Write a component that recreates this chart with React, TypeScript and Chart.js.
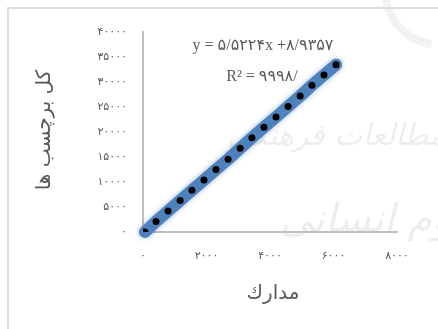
import React, { useEffect, useRef } from "react";
import { Chart, registerables } from "chart.js";

Chart.register(...registerables);

// Data
const docCounts = [60, 410, 790, 1170, 1540, 1920, 2300, 2680, 3060, 3430, 3810, 4190, 4570, 4950, 5320, 5700, 6080];
const labelCounts = [0, 2100, 4200, 6300, 8350, 10400, 12500, 14550, 16750, 18850, 20950, 23000, 25100, 27200, 29350, 31400, 33450];

const xTickLabels = ["۰", "۲۰۰۰", "۴۰۰۰", "۶۰۰۰", "۸۰۰۰"];
const yTickLabels = ["۰", "۵۰۰۰", "۱۰۰۰۰", "۱۵۰۰۰", "۲۰۰۰۰", "۲۵۰۰۰", "۳۰۰۰۰", "۳۵۰۰۰", "۴۰۰۰۰"];

const xTitle = "مدارك";
const yTitle = "کل برچسب ها";
const equationText = "y = ۵/۵۲۲۴x +۸/۹۳۵۷";
const r2Text = "R² = ۹۹۹۸/";
const watermark1 = "مطالعات فرهنگی";
const watermark2 = "علوم انسانی";

const W = 438;
const H = 329;

export default function App() {
  const ref = useRef<HTMLCanvasElement | null>(null);

  useEffect(() => {
    if (!ref.current) return;
    const points = docCounts.map((x, i) => ({ x, y: labelCounts[i] }));

    const decor = {
      id: "decor",
      beforeDraw(chart: any) {
        const ctx = chart.ctx;
        ctx.save();
        ctx.fillStyle = "#fff";
        ctx.fillRect(0, 0, W, H);
        // watermark
        ctx.fillStyle = "rgba(0,0,0,0.07)";
        ctx.textAlign = "right";
        ctx.font = "italic 30px 'DejaVu Sans'";
        ctx.fillText(watermark1, 445, 145);
        ctx.font = "italic 40px 'DejaVu Sans'";
        ctx.fillText(watermark2, 490, 232);
        ctx.beginPath();
        ctx.lineWidth = 8;
        ctx.strokeStyle = "rgba(0,0,0,0.05)";
        ctx.arc(440, -10, 55, Math.PI * 0.55, Math.PI * 0.95);
        ctx.stroke();
        // frame
        ctx.strokeStyle = "#dedede";
        ctx.lineWidth = 2;
        ctx.beginPath();
        ctx.moveTo(8, H);
        ctx.lineTo(8, 8);
        ctx.lineTo(W, 8);
        ctx.stroke();
        ctx.restore();
        // wide spacing for tick digits
        (ctx as any).letterSpacing = "5px";
      },
      beforeDatasetDraw(chart: any, args: any) {
        if (args.index === 1) {
          const ctx = chart.ctx;
          ctx.save();
          ctx.shadowColor = "rgba(79,129,189,0.6)";
          ctx.shadowBlur = 5;
        }
      },
      afterDatasetDraw(chart: any, args: any) {
        if (args.index === 1) chart.ctx.restore();
      },
      afterDraw(chart: any) {
        const ctx = chart.ctx;
        (ctx as any).letterSpacing = "0px";
        ctx.save();
        ctx.fillStyle = "#595959";
        ctx.textAlign = "center";
        ctx.textBaseline = "alphabetic";
        ctx.font = "16px 'Liberation Serif', 'DejaVu Sans'";
        ctx.fillText(equationText, 263, 50);
        ctx.fillText(r2Text, 262, 81);
        ctx.textBaseline = "middle";
        ctx.font = "20px 'DejaVu Sans'";
        ctx.direction = "rtl";
        ctx.fillText(xTitle, 273, 294);
        ctx.translate(45, 130);
        ctx.rotate(-Math.PI / 2);
        ctx.fillText(yTitle, 0, 0);
        ctx.restore();
      },
    };

    const chart = new Chart(ref.current, {
      type: "scatter",
      data: {
        datasets: [
          {
            data: points,
            showLine: false,
            pointRadius: 3.5,
            pointBackgroundColor: "#000",
            pointBorderWidth: 0,
            order: 0,
          } as any,
          {
            data: points,
            showLine: true,
            borderColor: "#4F81BD",
            borderWidth: 12,
            borderCapStyle: "round",
            borderJoinStyle: "round",
            pointRadius: 0,
            clip: false,
            order: 1,
          } as any,
        ],
      },
      options: {
        animation: false,
        responsive: false,
        events: [],
        layout: { padding: { left: 0, top: 32, right: 41, bottom: 0 } },
        plugins: { legend: { display: false }, tooltip: { enabled: false } },
        scales: {
          x: {
            type: "linear",
            min: 0,
            max: 8000,
            afterFit: (s: any) => { s.height = 97; },
            grid: { display: false, drawTicks: false },
            border: { display: true, color: "#bfbfbf", width: 2 },
            ticks: {
              stepSize: 2000,
              padding: 18,
              color: "#595959",
              font: { family: "'DejaVu Sans'", size: 11 },
              callback: (v: any, i: number) => xTickLabels[i],
            },
          },
          y: {
            type: "linear",
            min: 0,
            max: 40000,
            afterFit: (s: any) => { s.width = 143; },
            grid: { display: false, drawTicks: false },
            border: { display: true, color: "#bfbfbf", width: 2 },
            ticks: {
              stepSize: 5000,
              padding: 16,
              color: "#595959",
              font: { family: "'DejaVu Sans'", size: 11 },
              callback: (v: any, i: number) => yTickLabels[i],
            },
          },
        },
      },
      plugins: [decor],
    });
    return () => chart.destroy();
  }, []);

  return (
    <div style={{ position: "absolute", left: 0, top: 0, width: W, height: H, background: "#fff" }}>
      <canvas ref={ref} width={W} height={H} style={{ display: "block", width: W, height: H }} />
    </div>
  );
}
